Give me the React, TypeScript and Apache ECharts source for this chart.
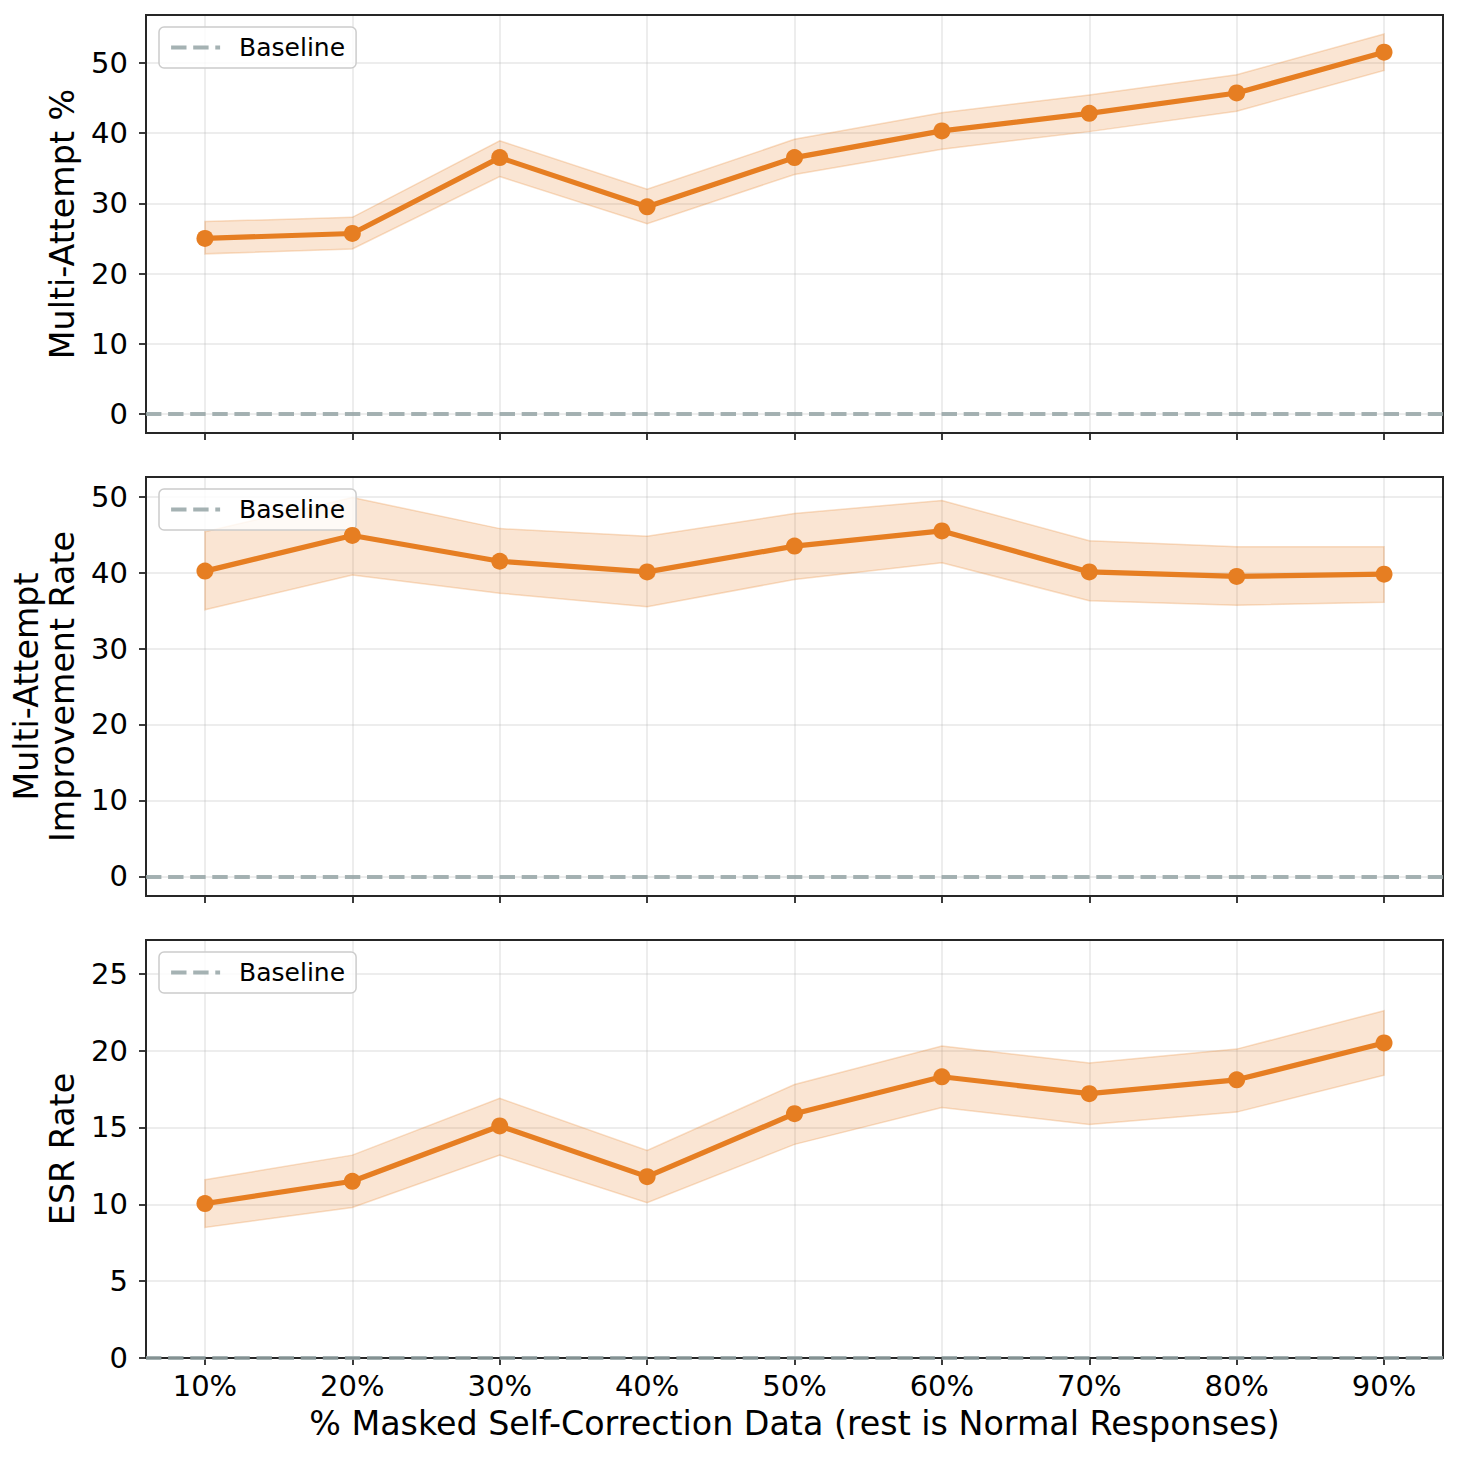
import React, { useEffect, useRef } from "react";
import * as echarts from "echarts";

const categories = ["10%", "20%", "30%", "40%", "50%", "60%", "70%", "80%", "90%"];

const multiAttempt = [25.0, 25.7, 36.5, 29.5, 36.5, 40.3, 42.8, 45.7, 51.5];
const multiAttemptLower = [22.8, 23.5, 33.8, 27.1, 34.1, 37.7, 40.2, 43.1, 48.9];
const multiAttemptUpper = [27.4, 28.0, 38.9, 32.0, 39.1, 42.9, 45.4, 48.3, 54.1];

const improvement = [40.2, 44.9, 41.5, 40.1, 43.5, 45.5, 40.1, 39.5, 39.8];
const improvementLower = [35.1, 39.7, 37.3, 35.5, 39.1, 41.3, 36.3, 35.7, 36.1];
const improvementUpper = [45.4, 49.9, 45.8, 44.8, 47.8, 49.5, 44.2, 43.4, 43.4];

const esr = [10.05, 11.5, 15.1, 11.8, 15.9, 18.3, 17.2, 18.1, 20.5];
const esrLower = [8.5, 9.8, 13.2, 10.1, 13.9, 16.3, 15.2, 16.0, 18.4];
const esrUpper = [11.6, 13.2, 16.9, 13.5, 17.8, 20.3, 19.2, 20.1, 22.6];

const yTicksTop = [0, 10, 20, 30, 40, 50];
const yTicksMid = [0, 10, 20, 30, 40, 50];
const yTicksBottom = [0, 5, 10, 15, 20, 25];

const baselineValue = 0;

const yNames = ["Multi-Attempt %", "Multi-Attempt\nImprovement Rate", "ESR Rate"];
const xName = "% Masked Self-Correction Data (rest is Normal Responses)";

const ORANGE = "#e67e22";
const GRAY = "#95a5a6";
const FONT = "DejaVu Sans";
const DARK = "#262626";

export default function App() {
  const ref = useRef<HTMLDivElement>(null);

  useEffect(() => {
    if (!ref.current) return;
    const chart = echarts.init(ref.current, undefined, { renderer: "svg" });

    const panels = [
      { mean: multiAttempt, lower: multiAttemptLower, upper: multiAttemptUpper, ticks: yTicksTop, min: -2.7, max: 56.8, top: 15, height: 418 },
      { mean: improvement, lower: improvementLower, upper: improvementUpper, ticks: yTicksMid, min: -2.6, max: 52.6, top: 477, height: 419 },
      { mean: esr, lower: esrLower, upper: esrUpper, ticks: yTicksBottom, min: 0, max: 27.2, top: 940, height: 418 },
    ];
    const xIdx = categories.map((_, i) => i);
    const baseDash = [15.4, 6.7];

    const grid = panels.map((p) => ({
      left: 146,
      right: 16,
      top: p.top,
      height: p.height,
      show: true,
      borderColor: DARK,
      borderWidth: 2,
      backgroundColor: "transparent",
      z: 5,
    }));

    const xAxis = panels.map((p, k) => ({
      type: "value",
      gridIndex: k,
      min: -0.4,
      max: 8.4,
      axisLine: { show: false, onZero: false },
      axisTick: { show: true, customValues: xIdx, length: 7, lineStyle: { color: DARK, width: 1.8 } },
      axisLabel: {
        show: k === 2,
        customValues: xIdx,
        formatter: (v: number) => categories[Math.round(v)] ?? "",
        fontSize: 29,
        fontFamily: FONT,
        color: "#000",
        margin: 13,
      },
      splitLine: { show: true, lineStyle: { color: "#b0b0b0", opacity: 0.3, width: 1.5 } },
      name: k === 2 ? xName : "",
      nameLocation: "middle",
      nameGap: 49,
      nameTextStyle: { fontSize: 33.3, fontFamily: FONT, color: "#000" },
    }));

    const yAxis = panels.map((p, k) => ({
      type: "value",
      gridIndex: k,
      min: p.min,
      max: p.max,
      axisLine: { show: false, onZero: false },
      axisTick: { show: true, customValues: p.ticks, length: 7, lineStyle: { color: DARK, width: 1.8 } },
      axisLabel: {
        customValues: p.ticks,
        fontSize: 29,
        fontFamily: FONT,
        color: "#000",
        margin: 18,
      },
      splitLine: { show: true, lineStyle: { color: "#b0b0b0", opacity: 0.3, width: 1.5 } },
      name: yNames[k],
      nameLocation: "middle",
      nameGap: 61,
      nameTextStyle: { fontSize: 33.3, fontFamily: FONT, color: "#000", lineHeight: 36 },
    }));

    const series: any[] = [];
    panels.forEach((p, k) => {
      const bandData = p.mean.map((_, i) => [i, p.lower[i], p.upper[i]]);
      series.push({
        type: "custom",
        xAxisIndex: k,
        yAxisIndex: k,
        data: bandData,
        silent: true,
        z: 2,
        renderItem: (params: any, api: any) => {
          if (params.dataIndex !== 0) return null;
          const upperPts = bandData.map((d) => api.coord([d[0], d[2]]));
          const lowerPts = bandData.map((d) => api.coord([d[0], d[1]])).reverse();
          return {
            type: "polygon",
            shape: { points: upperPts.concat(lowerPts) },
            style: {
              fill: "rgba(230,126,34,0.2)",
              stroke: "rgba(230,126,34,0.25)",
              lineWidth: 1.5,
            },
          };
        },
      });
      series.push({
        type: "line",
        name: "Baseline",
        xAxisIndex: k,
        yAxisIndex: k,
        data: [],
        symbol: "none",
        showSymbol: false,
        lineStyle: { color: GRAY, width: 4.2, type: baseDash, opacity: 0.85 },
        itemStyle: { color: GRAY },
        markLine: {
          silent: true,
          symbol: "none",
          label: { show: false },
          lineStyle: { color: GRAY, width: 4.2, type: baseDash, opacity: 0.85 },
          data: [{ yAxis: baselineValue }],
        },
        z: 3,
      });
      series.push({
        type: "line",
        xAxisIndex: k,
        yAxisIndex: k,
        data: p.mean.map((v, i) => [i, v]),
        symbol: "circle",
        symbolSize: 17,
        lineStyle: { color: ORANGE, width: 5.2 },
        itemStyle: { color: ORANGE },
        z: 4,
      });
    });

    const legend = [27, 489, 952].map((top) => ({
      data: ["Baseline"],
      left: 159,
      top,
      orient: "vertical",
      itemWidth: 49,
      itemHeight: 14,
      padding: [8, 11, 8, 10],
      backgroundColor: "rgba(255,255,255,0.8)",
      borderColor: "#cccccc",
      borderWidth: 1.5,
      borderRadius: 5,
      selectedMode: false,
      itemStyle: { opacity: 0 },
      lineStyle: { color: GRAY, width: 4.2, type: baseDash, opacity: 0.85 },
      textStyle: { fontSize: 25, fontFamily: FONT, color: "#000", padding: [0, 0, 0, 14] },
    }));

    chart.setOption({
      animation: false,
      backgroundColor: "#ffffff",
      grid,
      xAxis,
      yAxis,
      legend,
      series,
    });

    return () => chart.dispose();
  }, []);

  return (
    <div
      ref={ref}
      style={{ position: "absolute", left: 0, top: 0, width: 1459, height: 1458 }}
    />
  );
}
